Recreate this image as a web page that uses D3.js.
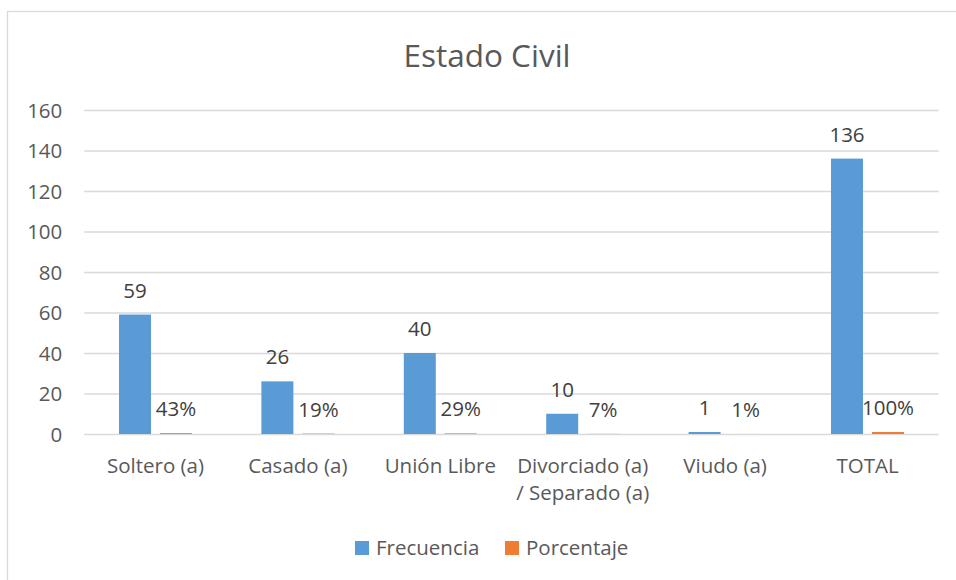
<!DOCTYPE html>
<html>
<head>
<meta charset="utf-8">
<script src="https://cdn.jsdelivr.net/npm/d3@7"></script>
<style>
  body { margin: 0; background: #fff; }
  text { font-family: "Open Sans", sans-serif; }
</style>
</head>
<body>
<div id="wrapper"></div>
<script>
// chart values
const categories = [["Soltero (a)"], ["Casado (a)"], ["Unión Libre"], ["Divorciado (a)", "/ Separado (a)"], ["Viudo (a)"], ["TOTAL"]]
const frecuencia = [59, 26, 40, 10, 1, 136]
const porcentaje = [0.43, 0.19, 0.29, 0.07, 0.01, 1.00]
const seriesNames = ["Frecuencia", "Porcentaje"]
const yTicks = [0, 20, 40, 60, 80, 100, 120, 140, 160]
const colors = { Frecuencia: "#5B9BD5", Porcentaje: "#ED7D31" }

function drawChart() {
    const width = 956
    const height = 580

    // plot box
    const dims = { left: 84.3, right: 938.7, top: 110, bottom: 434 }

    const svg = d3.select("#wrapper")
        .append("svg")
            .attr("width", width)
            .attr("height", height)

    // outer chart border (only top and left edges are inside the window)
    svg.append("rect")
        .attr("x", 7.5)
        .attr("y", 11.5)
        .attr("width", width + 20)
        .attr("height", height + 20)
        .attr("fill", "#fff")
        .attr("stroke", "#D9D9D9")
        .attr("stroke-width", 1.3)

    // title
    svg.append("text")
        .attr("x", 487)
        .attr("y", 67)
        .attr("text-anchor", "middle")
        .attr("fill", "#595959")
        .style("font-size", "31.5px")
        .text("Estado Civil")

    const yScale = d3.scaleLinear()
        .domain([0, 160])
        .range([dims.bottom, dims.top])

    const xScale = d3.scaleBand()
        .domain(d3.range(categories.length))
        .range([dims.left, dims.right])
        .paddingInner(0.4874)
        .paddingOuter(0.4874 / 2)

    const xInner = d3.scaleBand()
        .domain(seriesNames)
        .range([0, xScale.bandwidth()])
        .paddingInner(0.22)

    // gridlines + y labels
    const yAxis = d3.axisLeft(yScale)
        .tickValues(yTicks)
        .tickSize(-(dims.right - dims.left))
        .tickPadding(22)

    const yAxisGroup = svg.append("g")
        .attr("transform", `translate(${dims.left},0)`)
        .call(yAxis)
    yAxisGroup.select(".domain").remove()
    yAxisGroup.selectAll("line")
        .attr("stroke", "#D9D9D9")
        .attr("stroke-width", 1.3)
    yAxisGroup.selectAll("text")
        .attr("fill", "#595959")
        .style("font-size", "20.5px")
        .style("font-family", "'Open Sans', sans-serif")
        .attr("dy", "0.35em")

    // category labels
    const catGroup = svg.append("g")
    categories.forEach((lines, i) => {
        const t = catGroup.append("text")
            .attr("x", xScale(i) + xScale.bandwidth() / 2)
            .attr("y", 473)
            .attr("text-anchor", "middle")
            .attr("fill", "#595959")
            .style("font-size", "20.5px")
        lines.forEach((line, j) => {
            t.append("tspan")
                .attr("x", xScale(i) + xScale.bandwidth() / 2)
                .attr("dy", j === 0 ? 0 : 27)
                .text(line)
        })
    })

    // bars
    const seriesData = [
        { name: "Frecuencia", values: frecuencia, label: d => d3.format("d")(d) },
        { name: "Porcentaje", values: porcentaje, label: d => d3.format(".0%")(d) },
    ]

    seriesData.forEach(series => {
        const g = svg.append("g")
        g.selectAll("rect")
            .data(series.values)
            .join("rect")
                .attr("x", (d, i) => xScale(i) + xInner(series.name))
                .attr("y", d => yScale(d))
                .attr("width", xInner.bandwidth())
                .attr("height", d => yScale(0) - yScale(d))
                .attr("fill", colors[series.name])

        g.selectAll("text")
            .data(series.values)
            .join("text")
                .attr("x", (d, i) => xScale(i) + xInner(series.name) + xInner.bandwidth() / 2)
                .attr("y", d => yScale(d) - 17)
                .attr("text-anchor", "middle")
                .attr("fill", "#404040")
                .style("font-size", "20.5px")
                .text(d => series.label(d))
    })

    // legend
    const legend = svg.append("g")
    const legendX = [355, 505]
    seriesNames.forEach((name, i) => {
        legend.append("rect")
            .attr("x", legendX[i])
            .attr("y", 541)
            .attr("width", 14)
            .attr("height", 14)
            .attr("fill", colors[name])
        legend.append("text")
            .attr("x", legendX[i] + 21)
            .attr("y", 555)
            .attr("fill", "#595959")
            .style("font-size", "20.5px")
            .text(name)
    })
}

drawChart()
</script>
</body>
</html>
